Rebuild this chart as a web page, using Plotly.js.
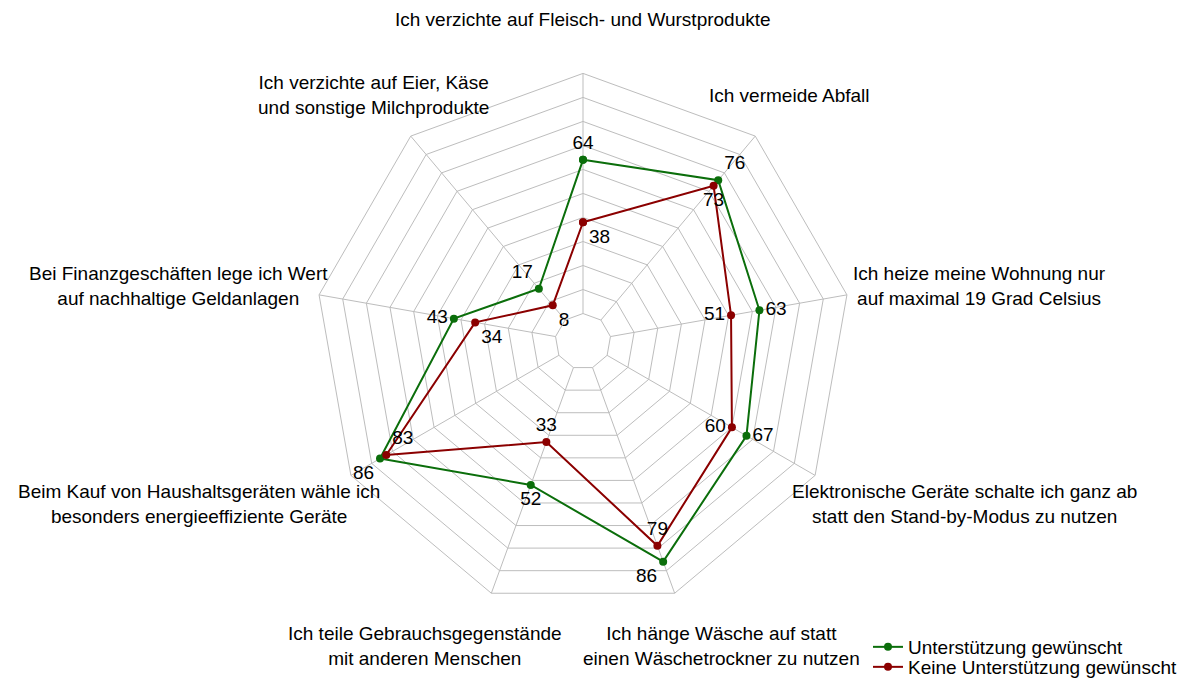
<!DOCTYPE html>
<html>
<head>
<meta charset="utf-8">
<script src="https://cdn.plot.ly/plotly-3.0.1.min.js"></script>
<style>html,body{margin:0;padding:0;background:#fff;}#chart{width:1191px;height:682px;}</style>
</head>
<body>
<div id="chart"></div>
<script>
// ---- data ----
var categories = [
  "Ich verzichte auf Fleisch- und Wurstprodukte",
  "Ich vermeide Abfall",
  "Ich heize meine Wohnung nur<br>auf maximal 19 Grad Celsius",
  "Elektronische Geräte schalte ich ganz ab<br>statt den Stand-by-Modus zu nutzen",
  "Ich hänge Wäsche auf statt<br>einen Wäschetrockner zu nutzen",
  "Ich teile Gebrauchsgegenstände<br>mit anderen Menschen",
  "Beim Kauf von Haushaltsgeräten wähle ich<br>besonders energieeffiziente Geräte",
  "Bei Finanzgeschäften lege ich Wert<br>auf nachhaltige Geldanlagen",
  "Ich verzichte auf Eier, Käse<br>und sonstige Milchprodukte"
];
var seriesNames = ["Unterstützung gewünscht", "Keine Unterstützung gewünscht"];
var supportWanted = [64, 76, 63, 67, 86, 52, 86, 43, 17];
var noSupportWanted = [38, 73, 51, 60, 79, 33, 83, 34, 8];

// ---- layout / style ----
var W = 1191, H = 682, CX = 583, CY = 341.4, R = 268;
var FONT = "Liberation Sans, Arial, sans-serif";
var FS = 19;
var greenCol = "#0b6e0b", redCol = "#8b0000", gridCol = "#bdbdbd";
var greenTextPos = ["top center","top right","middle right","middle right","bottom left","bottom center","bottom left","middle left","top left"];
var redTextPos = ["bottom right","bottom center","middle left","middle left","top center","top center","top right","bottom right","bottom right"];
var labelXShift = [0, 0, 80, 103, 29, -48, -105, -88, -3];

function closed(a){ return a.concat([a[0]]); }
function mkTrace(vals, name, col, pos, leg){
  return {
    type: "scatterpolar",
    r: closed(vals),
    theta: closed(categories),
    name: name,
    legend: leg,
    mode: "lines+markers+text",
    text: vals.map(String).concat([""]),
    textposition: closed(pos),
    textfont: {family: FONT, size: FS, color: "#000"},
    line: {color: col, width: 2},
    marker: {color: col, size: 8},
    cliponaxis: false,
    hoverinfo: "skip"
  };
}
var traces = [
  mkTrace(supportWanted, seriesNames[0], greenCol, greenTextPos, "legend"),
  mkTrace(noSupportWanted, seriesNames[1], redCol, redTextPos, "legend2")
];

var n = categories.length;
var annotations = categories.map(function(c, i){
  var a = i * 2 * Math.PI / n;
  var rl = 1.2 * R;
  var yPx = CY - rl * Math.cos(a) + (1 - Math.cos(a));
  return {
    xref: "paper", yref: "paper",
    x: (CX + rl * Math.sin(a) + labelXShift[i]) / W,
    y: (H - yPx) / H,
    text: c, showarrow: false, xanchor: "center", yanchor: "middle", align: "center",
    font: {family: FONT, size: FS, color: "#000"}
  };
});

function legendAt(yPx){
  return {x: 868 / W, y: (H - yPx) / H, xanchor: "left", yanchor: "middle",
          bgcolor: "rgba(0,0,0,0)", borderwidth: 0,
          font: {family: FONT, size: FS, color: "#000"}};
}

var layout = {
  width: W, height: H,
  margin: {l: 0, r: 0, t: 0, b: 0, pad: 0, autoexpand: false},
  paper_bgcolor: "#fff",
  font: {family: FONT, size: FS, color: "#000"},
  showlegend: true,
  legend: legendAt(647),
  legend2: legendAt(667),
  annotations: annotations,
  polar: {
    domain: {x: [(CX - R) / W, (CX + R) / W], y: [(H - CY - R) / H, (H - CY + R) / H]},
    bgcolor: "#fff",
    gridshape: "linear",
    hole: 0.104,
    radialaxis: {range: [0, 100], dtick: 10, tick0: 0, showticklabels: false, ticks: "",
                 showline: false, gridcolor: gridCol, gridwidth: 1, angle: 90},
    angularaxis: {rotation: 90, direction: "clockwise", showticklabels: false, ticks: "",
                  showline: true, linecolor: gridCol, linewidth: 1, gridcolor: gridCol, gridwidth: 1}
  }
};

Plotly.newPlot("chart", traces, layout, {displayModeBar: false, staticPlot: true});
</script>
</body>
</html>
